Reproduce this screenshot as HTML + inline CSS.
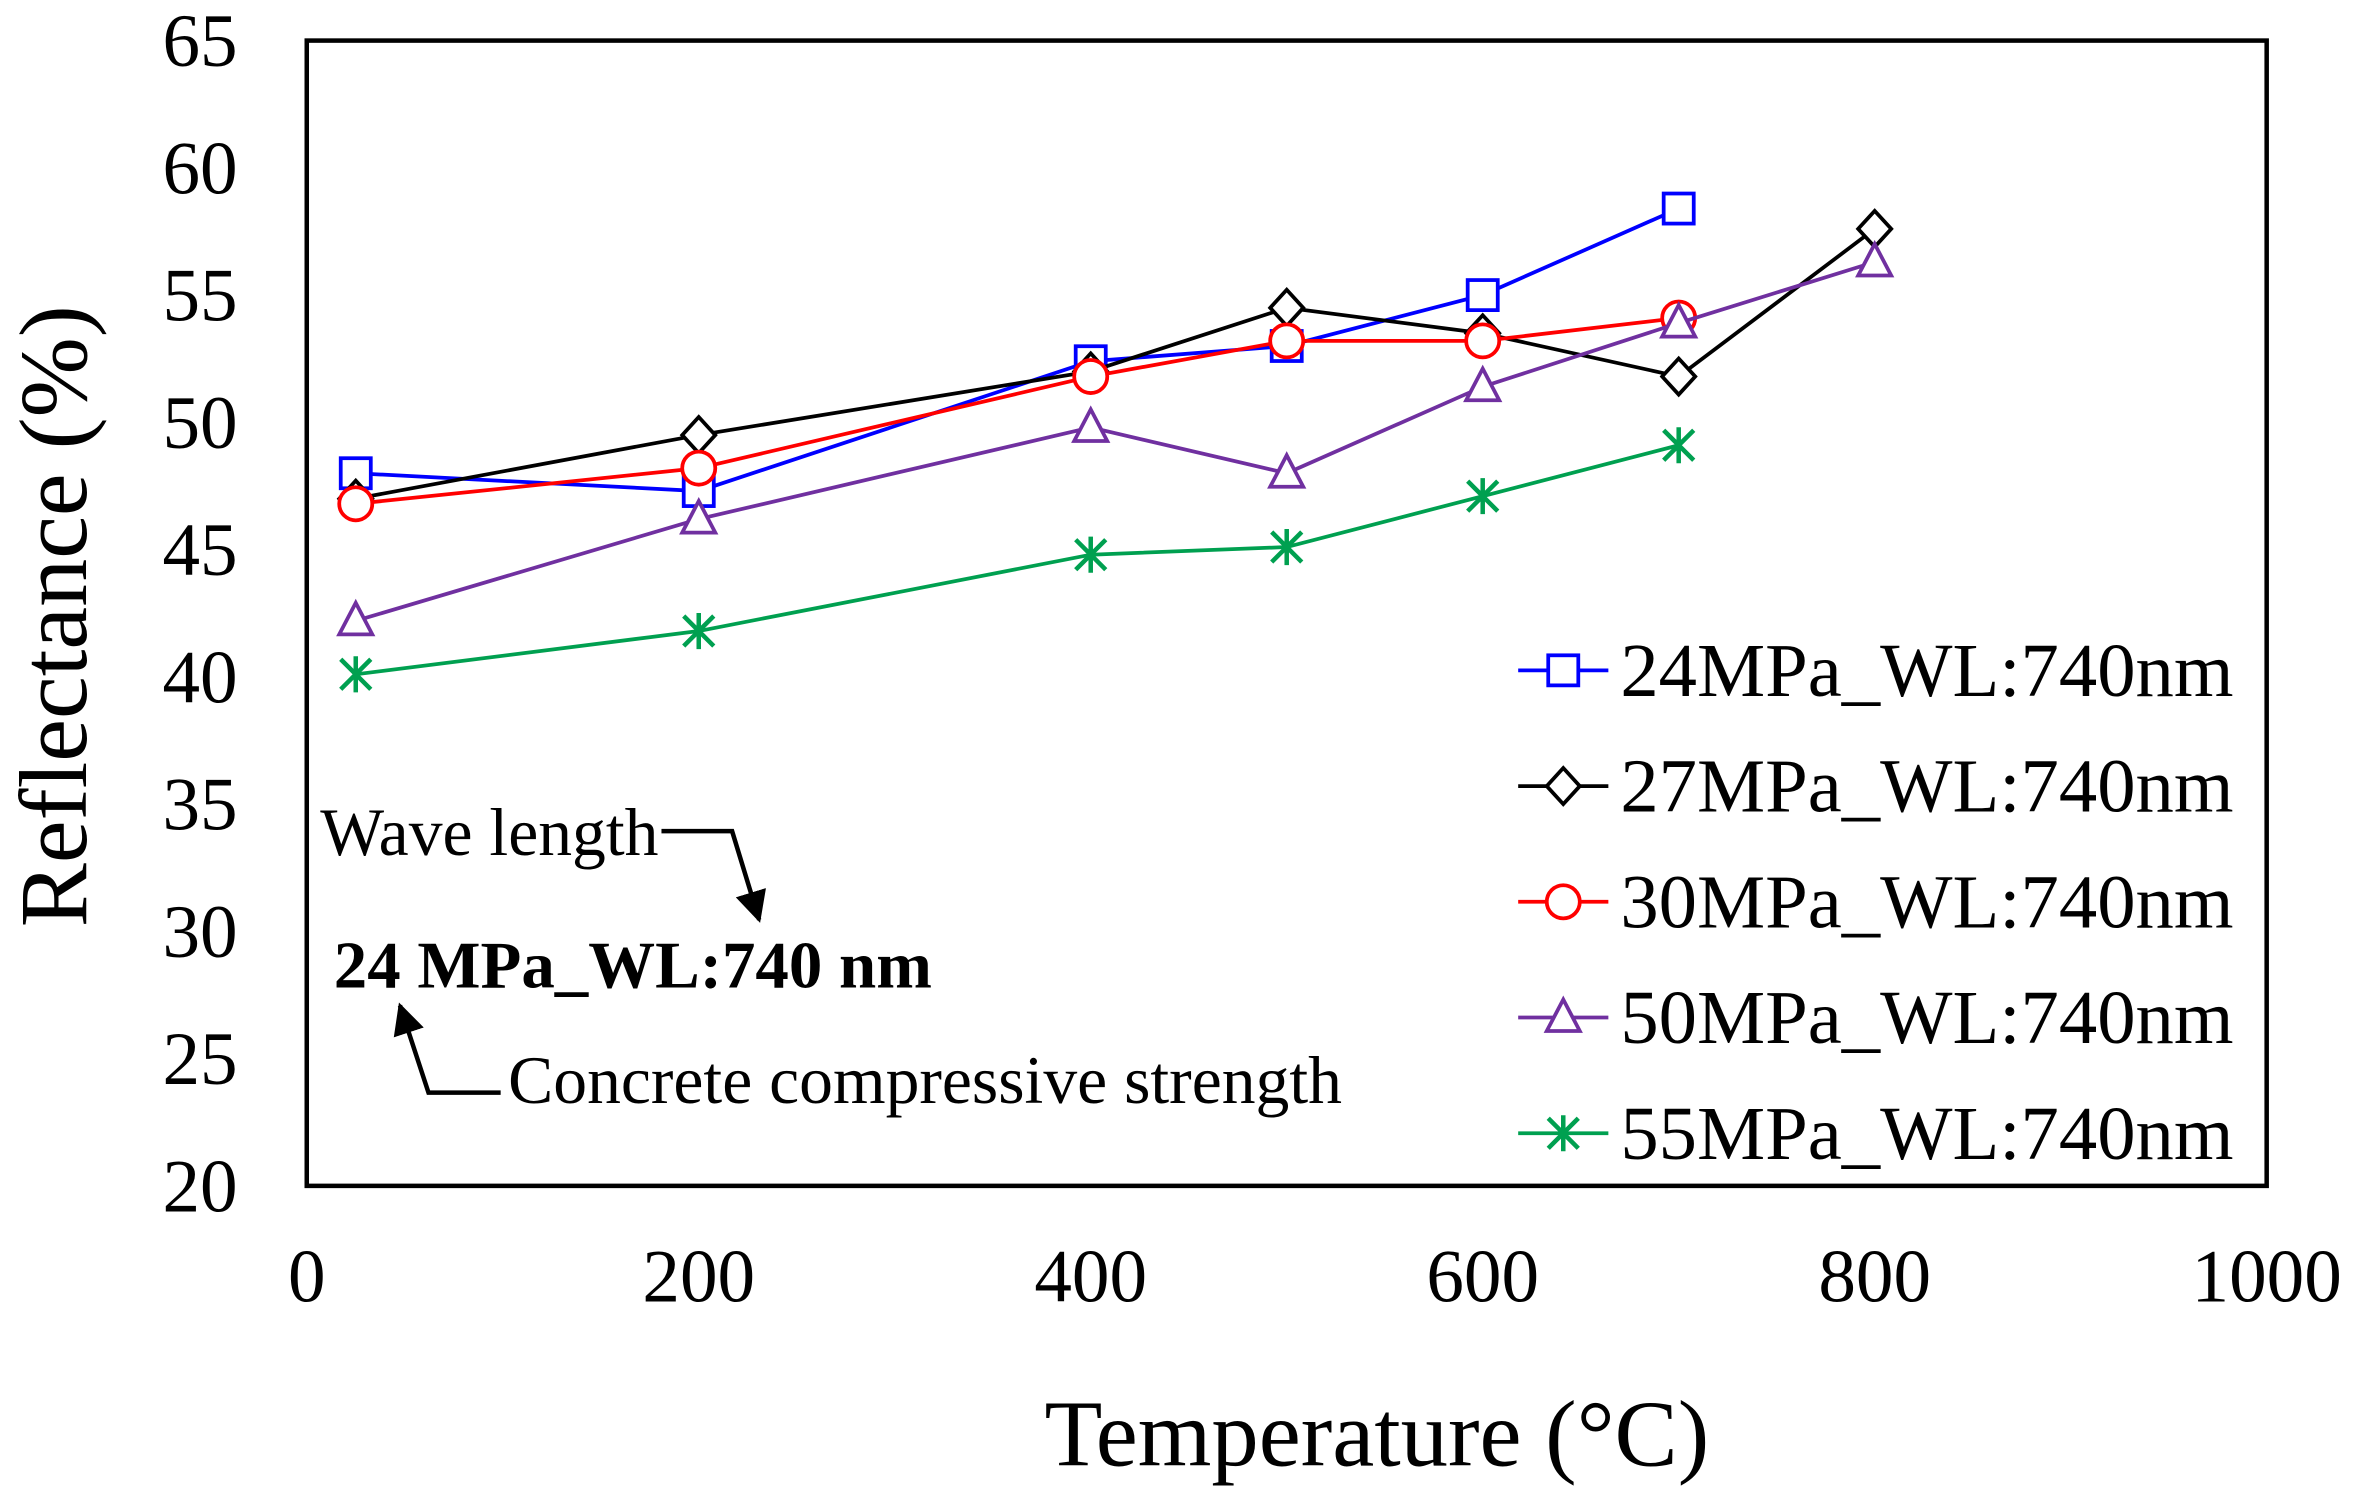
<!DOCTYPE html>
<html><head><meta charset="utf-8"><style>
html,body{margin:0;padding:0;background:#fff;}
svg{display:block;font-family:"Liberation Serif",serif;}
</style></head><body>
<svg id="chart" width="2357" height="1503" viewBox="0 0 1568 1000" xmlns="http://www.w3.org/2000/svg">
<defs>
<marker id="ah" viewBox="0 0 10 10" refX="9" refY="5" markerWidth="7" markerHeight="7" orient="auto"><path d="M0,0 L10,5 L0,10 z" fill="#000"/></marker>
</defs>
<rect x="204" y="27" width="1304" height="762" fill="none" stroke="#000" stroke-width="3"/>
<g id="yticks"></g><g id="xticks"></g>
<g id="series"></g>
<text x="916" y="975" font-size="63" text-anchor="middle">Temperature (°C)</text>
<text transform="translate(57,410) rotate(-90)" font-size="64" text-anchor="middle">Reflectance (%)</text>
<g>
<text x="213" y="569" font-size="45">Wave length</text>
<polyline points="440,553 487,553 505,612" fill="none" stroke="#000" stroke-width="3" marker-end="url(#ah)"/>
<text x="222" y="657" font-size="44.5" font-weight="bold">24 MPa_WL:740 nm</text>
<polyline points="333,727 285,727 266,669" fill="none" stroke="#000" stroke-width="3" marker-end="url(#ah)"/>
<text x="338" y="734" font-size="45">Concrete compressive strength</text>
</g>
<g id="legend"></g>
</svg>
<script>
const yTicks=[20,25,30,35,40,45,50,55,60,65];
const xTicks=[0,200,400,600,800,1000];
const names=["24MPa_WL:740nm","27MPa_WL:740nm","30MPa_WL:740nm","50MPa_WL:740nm","55MPa_WL:740nm"];
const colors=["#0000ff","#000000","#ff0000","#7030a0","#00a050"];
const markers=["square","diamond","circle","triangle","star"];
const temps24=[25,200,400,500,600,700];
const vals24=[48.0,47.3,52.4,53.0,55.0,58.4];
const temps27=[25,200,400,500,600,700,800];
const vals27=[47.0,49.5,52.0,54.5,53.5,51.8,57.6];
const temps30=[25,200,400,500,600,700];
const vals30=[46.8,48.2,51.8,53.2,53.2,54.1];
const temps50=[25,200,400,500,600,700,800];
const vals50=[42.2,46.2,49.8,48.0,51.4,53.9,56.3];
const temps55=[25,200,400,500,600,700];
const vals55=[40.1,41.8,44.8,45.1,47.1,49.1];
const allT=[temps24,temps27,temps30,temps50,temps55];
const allV=[vals24,vals27,vals30,vals50,vals55];
const NS="http://www.w3.org/2000/svg";
const X=v=>204+v/1000*1304;
const Y=v=>789-(v-20)/45*762;
function mk(tag,at,parent){const e=document.createElementNS(NS,tag);for(const k in at)e.setAttribute(k,at[k]);parent.appendChild(e);return e;}
const yg=document.getElementById('yticks');
yTicks.forEach(t=>{const e=mk('text',{x:158,y:Y(t)+17,'font-size':50,'text-anchor':'end'},yg);e.textContent=t;

});
const xg=document.getElementById('xticks');
xTicks.forEach(t=>{const e=mk('text',{x:X(t),y:866,'font-size':50,'text-anchor':'middle'},xg);e.textContent=t;

});
function marker(type,x,y,c,g){
 const s={fill:'#fff',stroke:c,'stroke-width':2.5};
 if(type==='square')return mk('rect',Object.assign({x:x-10,y:y-10,width:20,height:20},s),g);
 if(type==='diamond')return mk('polygon',Object.assign({points:`${x},${y-12} ${x+11},${y} ${x},${y+12} ${x-11},${y}`},s),g);
 if(type==='circle')return mk('circle',Object.assign({cx:x,cy:y,r:11},s),g);
 if(type==='triangle')return mk('polygon',Object.assign({points:`${x},${y-12} ${x+11},${y+9} ${x-11},${y+9}`},s),g);
 return mk('path',{d:`M${x-10},${y-10}L${x+10},${y+10}M${x+10},${y-10}L${x-10},${y+10}M${x},${y-12}L${x},${y+12}`,stroke:c,'stroke-width':3,fill:'none'},g);
}
const sg=document.getElementById('series');
allT.forEach((ts,i)=>{
 const g=mk('g',{},sg);
 
 
 const pts=ts.map((t,j)=>X(t)+','+Y(allV[i][j])).join(' ');
 const l=mk('polyline',{points:pts,fill:'none',stroke:colors[i],'stroke-width':2.5},g);
 
 
 ts.forEach((t,j)=>{const m=marker(markers[i],X(t),Y(allV[i][j]),colors[i],g);
  
  });
});
const lg=document.getElementById('legend');
names.forEach((n,i)=>{
 const y=446+i*77;
 const g=mk('g',{},lg);
 
 
 mk('line',{x1:1010,y1:y,x2:1070,y2:y,stroke:colors[i],'stroke-width':2.5},g);
 marker(markers[i],1040,y,colors[i],g);
 const t=mk('text',{x:1078,y:y+17,'font-size':51},g);t.textContent=n;
});
</script>
</body></html>
